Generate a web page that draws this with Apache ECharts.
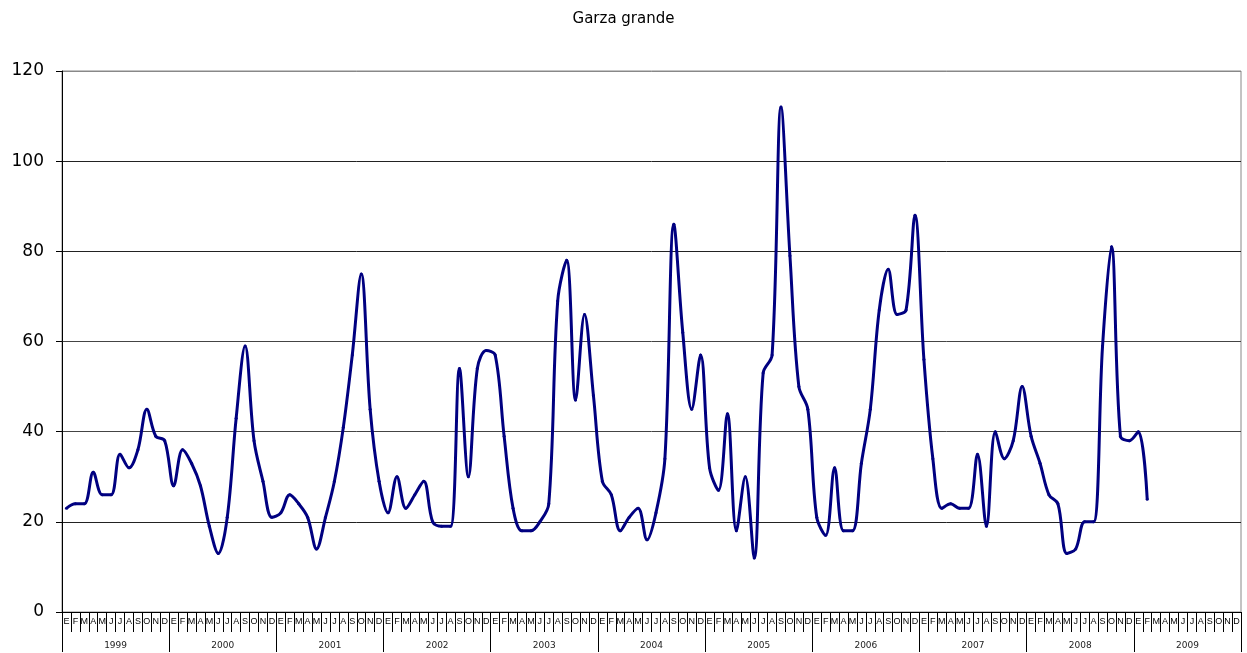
<!DOCTYPE html>
<html>
<head>
<meta charset="utf-8">
<script src="https://cdn.jsdelivr.net/npm/echarts@6/dist/echarts.min.js"></script>
<style>
html, body { margin: 0; padding: 0; background: #fff; }
#chart { width: 1247px; height: 653px; }
</style>
</head>
<body>
<div id="chart"></div>
<script>
var monthLetters = ['E', 'F', 'M', 'A', 'M', 'J', 'J', 'A', 'S', 'O', 'N', 'D'];
var years = ['1999', '2000', '2001', '2002', '2003', '2004', '2005', '2006', '2007', '2008', '2009'];
var yTicks = [0, 20, 40, 60, 80, 100, 120];

// conteos mensuales, ene 1999 - feb 2009
var counts1999 = [23, 24, 24, 31, 26, 26, 35, 32, 36, 45, 39, 38];
var counts2000 = [28, 36, 33, 28, 19, 13, 21, 43, 59, 38, 29, 21];
var counts2001 = [22, 26, 24, 21, 14, 21, 29, 41, 57, 75, 45, 29];
var counts2002 = [22, 30, 23, 26, 29, 20, 19, 19, 54, 30, 54, 58];
var counts2003 = [57, 39, 23, 18, 18, 20, 24, 69, 78, 47, 66, 48];
var counts2004 = [29, 26, 18, 21, 23, 16, 22, 34, 86, 62, 45, 57];
var counts2005 = [32, 27, 44, 18, 30, 12, 53, 57, 112, 79, 50, 45];
var counts2006 = [21, 17, 32, 18, 18, 33, 45, 67, 76, 66, 67, 88];
var counts2007 = [56, 34, 23, 24, 23, 23, 35, 19, 40, 34, 38, 50];
var counts2008 = [39, 33, 26, 24, 13, 14, 20, 20, 59, 81, 39, 38];
var counts2009 = [40, 25];

var months = [];
years.forEach(function () { months = months.concat(monthLetters); });
var values = [].concat(counts1999, counts2000, counts2001, counts2002, counts2003,
  counts2004, counts2005, counts2006, counts2007, counts2008, counts2009);

var myChart = echarts.init(document.getElementById('chart'));
var option = {
  animation: false,
  backgroundColor: '#fff',
  title: {
    text: 'Garza grande',
    left: 'center',
    top: 7,
    textStyle: { fontFamily: 'DejaVu Sans', fontSize: 15, fontWeight: 'normal', color: '#000' }
  },
  grid: {
    left: 62, right: 6, top: 71, bottom: 41,
    show: true, borderColor: '#888', borderWidth: 1
  },
  xAxis: [
    {
      type: 'category',
      data: months,
      boundaryGap: true,
      axisLine: { show: true, lineStyle: { color: '#000', width: 1 } },
      axisTick: { show: true, alignWithLabel: false, interval: 0, length: 20, lineStyle: { color: '#000', width: 1 } },
      axisLabel: { show: true, interval: 0, fontFamily: 'Liberation Sans', fontSize: 9, color: '#000', margin: 5 },
      splitLine: { show: false }
    },
    {
      type: 'category',
      data: years,
      position: 'bottom',
      offset: 0,
      boundaryGap: true,
      axisLine: { show: true, lineStyle: { color: '#000', width: 1 } },
      axisTick: { show: true, alignWithLabel: false, interval: 0, length: 40, lineStyle: { color: '#000', width: 1 } },
      axisLabel: { show: true, interval: 0, fontFamily: 'DejaVu Sans', fontSize: 9, color: '#222', margin: 29 },
      splitLine: { show: false }
    }
  ],
  yAxis: {
    type: 'value',
    min: yTicks[0],
    max: yTicks[yTicks.length - 1],
    interval: 20,
    axisLine: { show: true, lineStyle: { color: '#000' } },
    axisTick: { show: true, length: 6, lineStyle: { color: '#000' } },
    axisLabel: { fontFamily: 'DejaVu Sans', fontSize: 17, color: '#000', margin: 18 },
    splitLine: { lineStyle: { color: ['#000', '#222', '#444', '#444', '#222', '#222', '#888'], width: 1 } }
  },
  series: [
    {
      type: 'line',
      xAxisIndex: 0,
      data: values,
      smooth: 0.35,
      symbol: 'circle',
      symbolSize: 3,
      showSymbol: true,
      itemStyle: { color: '#000080' },
      lineStyle: { color: '#000080', width: 3 }
    }
  ]
};
myChart.setOption(option);
</script>
</body>
</html>
